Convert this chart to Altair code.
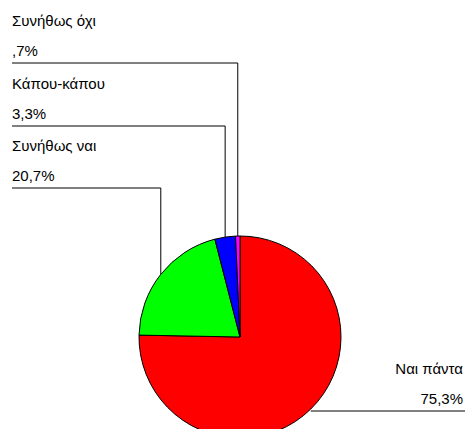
import math
import altair as alt
import pandas as pd

# ---- data ----
categories = ["Ναι πάντα", "Συνήθως ναι", "Κάπου-κάπου", "Συνήθως όχι"]
values = [75.3, 20.7, 3.3, 0.7]
value_labels = ["75,3%", "20,7%", "3,3%", ",7%"]
colors = ["#FF0000", "#00FF00", "#0000FF", "#FF00FF"]

# ---- layout (pixels in chart coordinates) ----
W, H = 457, 421
CX, CY, R = 232, 329, 101
label_line_y = [403, 180, 118, 55]    # underline y for each label
label_side = ["right", "left", "left", "left"]
LEFT_X = 4
RIGHT_X = 457
RIGHT_TEXT_X = 455

df = pd.DataFrame({"cat": categories, "val": values, "order": range(len(values))})

arc = alt.Chart(df).mark_arc(outerRadius=R, stroke="black", strokeWidth=1).encode(
    theta=alt.Theta("val:Q", stack=True),
    order=alt.Order("order:Q"),
    color=alt.Color("cat:N", scale=alt.Scale(domain=categories, range=colors), legend=None),
    x=alt.value(CX),
    y=alt.value(CY),
)

# leader lines computed from slice mid angles
total = sum(values)
cum = 0
segs = []
texts = []
for c, v, vl, ly, side in zip(categories, values, value_labels, label_line_y, label_side):
    mid = (cum + v / 2) / total * 2 * math.pi
    cum += v
    ax = CX + R * math.sin(mid)
    ay = CY - R * math.cos(mid)
    if side == "left":
        segs.append({"x": LEFT_X, "x2": ax, "y": ly, "y2": ly})
        segs.append({"x": ax, "x2": ax, "y": ly, "y2": ay})
        tx, al = LEFT_X, "left"
    else:
        segs.append({"x": ax, "x2": RIGHT_X, "y": ly, "y2": ly})
        tx, al = RIGHT_TEXT_X, "right"
    texts.append({"t": c, "x": tx, "y": ly - 37, "align": al})
    texts.append({"t": vl, "x": tx, "y": ly - 7, "align": al})

seg_df = pd.DataFrame(segs)
txt_df = pd.DataFrame(texts)

rules = alt.Chart(seg_df).mark_rule(color="black", strokeWidth=1).encode(
    x=alt.X("x:Q", scale=None),
    x2="x2:Q",
    y=alt.Y("y:Q", scale=None),
    y2="y2:Q",
)

def text_layer(align):
    return alt.Chart(txt_df[txt_df["align"] == align]).mark_text(
        align=align, baseline="alphabetic", font="Liberation Sans", fontSize=15, color="black"
    ).encode(
        x=alt.X("x:Q", scale=None),
        y=alt.Y("y:Q", scale=None),
        text="t:N",
    )

chart = alt.layer(rules, arc, text_layer("left"), text_layer("right")).properties(
    width=W, height=H, padding=0, autosize=alt.AutoSizeParams(type="none")
).configure_view(stroke=None)

chart.save("out.html", embed_options={"renderer": "svg", "actions": False})
